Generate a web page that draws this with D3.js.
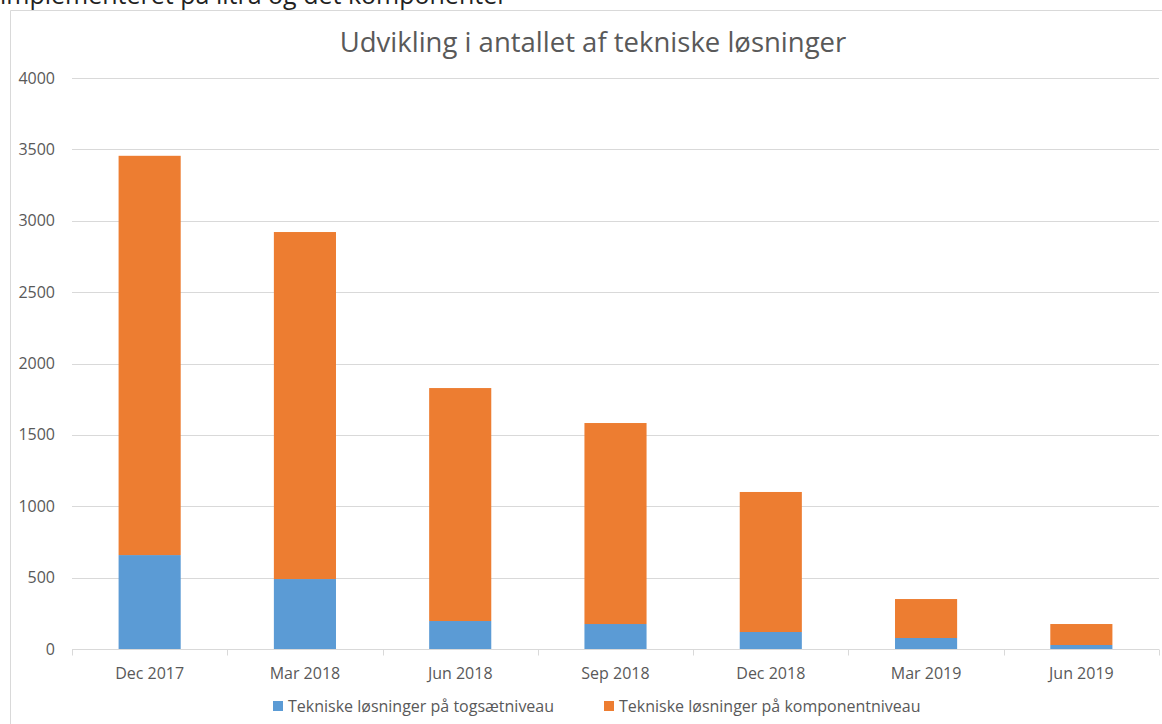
<!DOCTYPE html>
<html lang="da">
<head>
<meta charset="UTF-8">
<title>Udvikling i antallet af tekniske løsninger</title>
<script src="https://cdn.jsdelivr.net/npm/d3@7"></script>
<style>
    body { margin: 0; background: #fff; }
    text { font-family: "Open Sans", "Noto Sans", sans-serif; }
</style>
</head>
<body>
<script>
    // data
    const categories = ['Dec 2017', 'Mar 2018', 'Jun 2018', 'Sep 2018', 'Dec 2018', 'Mar 2019', 'Jun 2019']
    const togsaet = [658, 490, 196, 175, 119, 77, 28]
    const komponent = [2797, 2431, 1632, 1408, 981, 273, 147]
    const seriesNames = ['Tekniske løsninger på togsætniveau', 'Tekniske løsninger på komponentniveau']
    const yTicks = [0, 500, 1000, 1500, 2000, 2500, 3000, 3500, 4000]
    const colors = ['#5B9BD5', '#ED7D31']

    const width = 1162, height = 724
    const margin = {left: 72, right: 3, top: 78, bottom: 75}

    const svg = d3.select('body').append('svg')
        .attr('width', width)
        .attr('height', height)

    // text cut off above the chart
    svg.append('text')
        .attr('x', 0).attr('y', 4)
        .attr('font-size', 25)
        .attr('fill', '#222')
        .text('implementeret på litra og det komponenter')

    // chart frame
    svg.append('path')
        .attr('d', `M10.5,${height}V10.5H${width}`)
        .attr('fill', 'none')
        .attr('stroke', '#d9d9d9')

    const x = d3.scaleBand()
        .domain(categories)
        .range([margin.left, width - margin.right])
        .paddingInner(0.6)
        .paddingOuter(0.3)
    const y = d3.scaleLinear()
        .domain([0, 4000])
        .range([height - margin.bottom, margin.top])

    // gridlines
    svg.append('g').selectAll('line').data(yTicks.slice(1)).join('line')
        .attr('x1', margin.left).attr('x2', width - margin.right)
        .attr('y1', d => Math.round(y(d)) + 0.5).attr('y2', d => Math.round(y(d)) + 0.5)
        .attr('stroke', '#d9d9d9')

    svg.append('g').selectAll('text').data(yTicks).join('text')
        .attr('x', 55).attr('y', d => y(d))
        .attr('dy', '0.35em')
        .attr('text-anchor', 'end')
        .attr('font-size', 16)
        .attr('fill', '#595959')
        .text(d => d)

    const stack = d3.stack().keys([0, 1]).value((d, k) => d[k])
    const rows = categories.map((c, i) => [togsaet[i], komponent[i]])
    const layers = stack(rows)

    svg.append('g').selectAll('g').data(layers).join('g')
        .attr('fill', (d, i) => colors[i])
        .selectAll('rect').data(d => d).join('rect')
        .attr('x', (d, i) => x(categories[i]))
        .attr('width', x.bandwidth())
        .attr('y', d => y(d[1]))
        .attr('height', d => y(d[0]) - y(d[1]))

    // x axis
    const axisY = Math.round(y(0)) + 0.5
    const bounds = d3.range(categories.length + 1).map(i => margin.left + i * (width - margin.right - margin.left) / categories.length)
    svg.append('line')
        .attr('x1', margin.left).attr('x2', width - margin.right)
        .attr('y1', axisY).attr('y2', axisY)
        .attr('stroke', '#d9d9d9')
    svg.append('g').selectAll('line').data(bounds).join('line')
        .attr('x1', d => Math.round(d) + 0.5).attr('x2', d => Math.round(d) + 0.5)
        .attr('y1', axisY).attr('y2', axisY + 6)
        .attr('stroke', '#d9d9d9')
    svg.append('g').selectAll('text').data(categories).join('text')
        .attr('x', d => x(d) + x.bandwidth() / 2)
        .attr('y', 673)
        .attr('dy', '0.35em')
        .attr('text-anchor', 'middle')
        .attr('font-size', 16)
        .attr('fill', '#595959')
        .text(d => d)

    // title
    svg.append('text')
        .attr('x', 593).attr('y', 52)
        .attr('text-anchor', 'middle')
        .attr('font-size', 27.5)
        .attr('fill', '#595959')
        .text('Udvikling i antallet af tekniske løsninger')

    // legend
    const legendX = [273, 604]
    const legend = svg.append('g').selectAll('g').data(seriesNames).join('g')
        .attr('transform', (d, i) => `translate(${legendX[i]},701)`)
    legend.append('rect')
        .attr('width', 10).attr('height', 10)
        .attr('fill', (d, i) => colors[i])
    legend.append('text')
        .attr('x', 15).attr('y', 5)
        .attr('dy', '0.35em')
        .attr('font-size', 16)
        .attr('fill', '#595959')
        .text(d => d)
</script>
</body>
</html>
